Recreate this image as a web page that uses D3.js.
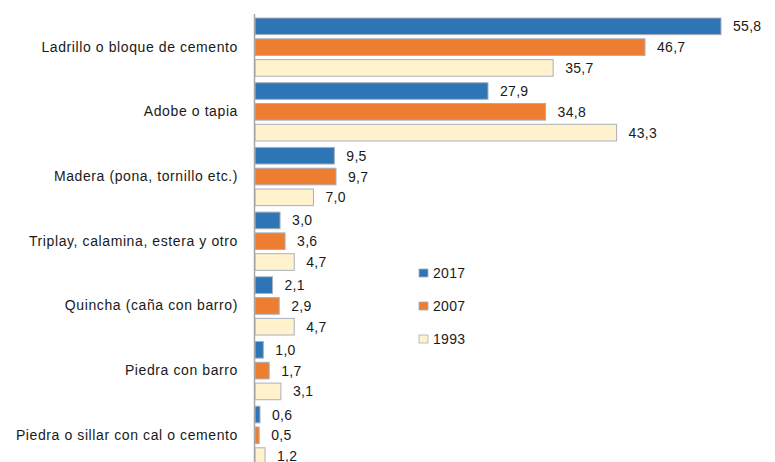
<!DOCTYPE html>
<html>
<head>
<meta charset="utf-8">
<script src="https://cdn.jsdelivr.net/npm/d3@7"></script>
<style>
  body { margin: 0; background: #fff; }
  text { font-family: "Liberation Sans", Arial, sans-serif; fill: #1a1a1a; }
</style>
</head>
<body>
<div id="chart"></div>
<script>
// data
const categories = [
  "Ladrillo o bloque de cemento",
  "Adobe o tapia",
  "Madera (pona, tornillo etc.)",
  "Triplay, calamina, estera y otro",
  "Quincha (caña con barro)",
  "Piedra con barro",
  "Piedra o sillar con cal o cemento"
];
const years = ["2017", "2007", "1993"];
const values2017 = [55.8, 27.9, 9.5, 3.0, 2.1, 1.0, 0.6];
const values2007 = [46.7, 34.8, 9.7, 3.6, 2.9, 1.7, 0.5];
const values1993 = [35.7, 43.3, 7.0, 4.7, 4.7, 3.1, 1.2];
const colors = ["#2e75b6", "#ed7d31", "#fff2cc"];

const W = 775, H = 462;
const axisX = 255;

const svg = d3.select("#chart").append("svg")
  .attr("width", W)
  .attr("height", H);

const x = d3.scaleLinear()
  .domain([0, 55.8])
  .range([axisX, 721]);

// group band, then bars inside each group
const y0 = d3.scaleBand()
  .domain(categories)
  .range([18, 18 + 64.7 * 6.9])
  .paddingInner(0.1)
  .paddingOuter(0);

const y1 = d3.scaleBand()
  .domain(years)
  .range([0, y0.bandwidth()])
  .paddingInner(0.2);

const series = [values2017, values2007, values1993];
const rows = [];
categories.forEach((c, i) => {
  years.forEach((yr, j) => {
    rows.push({ cat: c, year: yr, v: series[j][i], color: colors[j] });
  });
});

const fmt = v => d3.format(".1f")(v).replace(".", ",");

svg.selectAll("rect.bar")
  .data(rows)
  .enter()
  .append("rect")
  .attr("class", "bar")
  .attr("x", x(0))
  .attr("y", d => y0(d.cat) + y1(d.year))
  .attr("width", d => x(d.v) - x(0))
  .attr("height", y1.bandwidth())
  .attr("fill", d => d.color)
  .attr("stroke", "#a9b0bc")
  .attr("stroke-width", 1);

svg.selectAll("text.val")
  .data(rows)
  .enter()
  .append("text")
  .attr("class", "val")
  .attr("x", d => x(d.v) + 12)
  .attr("y", d => y0(d.cat) + y1(d.year) + y1.bandwidth() / 2)
  .attr("dominant-baseline", "central")
  .attr("font-size", 14)
  .attr("letter-spacing", 0.3)
  .text(d => fmt(d.v));

// category axis on the left
const yAxis = d3.axisLeft(y0).tickSize(0).tickPadding(17);
const gAxis = svg.append("g")
  .attr("transform", `translate(${axisX},0)`)
  .call(yAxis);
gAxis.select(".domain").remove();
gAxis.selectAll("text")
  .attr("font-size", 14)
  .attr("letter-spacing", 0.6)
  .style("font-family", "'Liberation Sans', Arial, sans-serif")
  .attr("fill", "#1a1a1a");

svg.append("line")
  .attr("x1", axisX - 0.5)
  .attr("x2", axisX - 0.5)
  .attr("y1", 14)
  .attr("y2", H)
  .attr("stroke", "#a6a6a6")
  .attr("stroke-width", 1.5);

// legend
const legend = svg.append("g")
  .attr("transform", "translate(419,273)");

years.forEach((yr, i) => {
  const g = legend.append("g")
    .attr("transform", `translate(0,${i * 33})`);
  g.append("rect")
    .attr("x", 0)
    .attr("y", -4)
    .attr("width", 9)
    .attr("height", 8)
    .attr("fill", colors[i])
    .attr("stroke", "#a9b0bc")
    .attr("stroke-width", 0.8);
  g.append("text")
    .attr("x", 14)
    .attr("y", 0)
    .attr("dominant-baseline", "central")
    .attr("font-size", 14)
    .attr("letter-spacing", 0.3)
    .text(yr);
});
</script>
</body>
</html>
